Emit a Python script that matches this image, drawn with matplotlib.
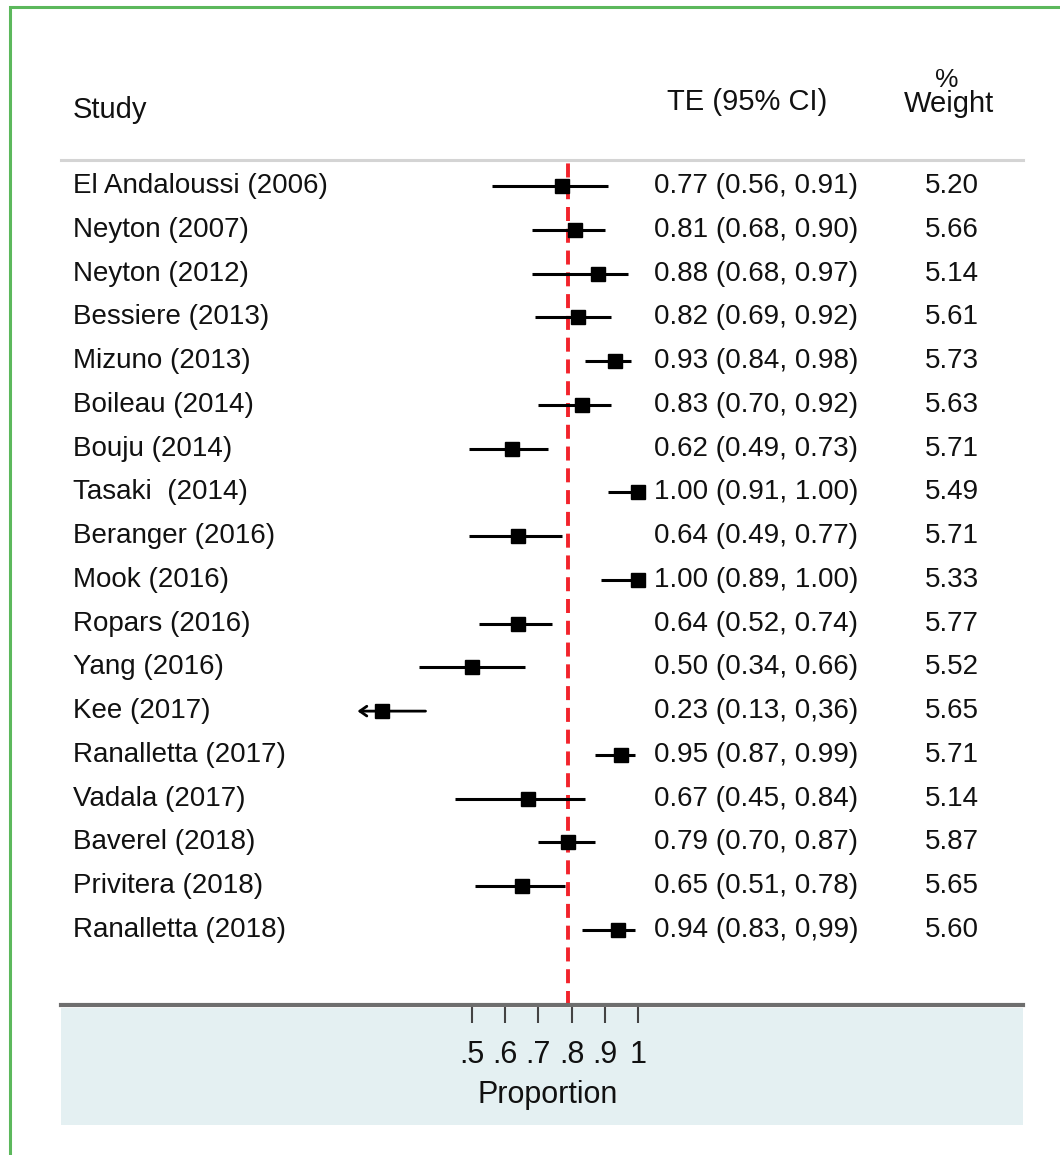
import numpy as np
import matplotlib
matplotlib.use("Agg")
from matplotlib import pyplot as plt
from matplotlib.patches import Rectangle

# study data
studies = ["El Andaloussi (2006)", "Neyton (2007)", "Neyton (2012)", "Bessiere (2013)",
           "Mizuno (2013)", "Boileau (2014)", "Bouju (2014)", "Tasaki  (2014)",
           "Beranger (2016)", "Mook (2016)", "Ropars (2016)", "Yang (2016)",
           "Kee (2017)", "Ranalletta (2017)", "Vadala (2017)", "Baverel (2018)",
           "Privitera (2018)", "Ranalletta (2018)"]
te = [0.77, 0.81, 0.88, 0.82, 0.93, 0.83, 0.62, 1.00, 0.64, 1.00,
      0.64, 0.50, 0.23, 0.95, 0.67, 0.79, 0.65, 0.94]
lo = [0.56, 0.68, 0.68, 0.69, 0.84, 0.70, 0.49, 0.91, 0.49, 0.89,
      0.52, 0.34, 0.13, 0.87, 0.45, 0.70, 0.51, 0.83]
hi = [0.91, 0.90, 0.97, 0.92, 0.98, 0.92, 0.73, 1.00, 0.77, 1.00,
      0.74, 0.66, 0.36, 0.99, 0.84, 0.87, 0.78, 0.99]
ci_text = ["0.77 (0.56, 0.91)", "0.81 (0.68, 0.90)", "0.88 (0.68, 0.97)",
           "0.82 (0.69, 0.92)", "0.93 (0.84, 0.98)", "0.83 (0.70, 0.92)",
           "0.62 (0.49, 0.73)", "1.00 (0.91, 1.00)", "0.64 (0.49, 0.77)",
           "1.00 (0.89, 1.00)", "0.64 (0.52, 0.74)", "0.50 (0.34, 0.66)",
           "0.23 (0.13, 0,36)", "0.95 (0.87, 0.99)", "0.67 (0.45, 0.84)",
           "0.79 (0.70, 0.87)", "0.65 (0.51, 0.78)", "0.94 (0.83, 0,99)"]
weights = [5.20, 5.66, 5.14, 5.61, 5.73, 5.63, 5.71, 5.49, 5.71, 5.33,
           5.77, 5.52, 5.65, 5.71, 5.14, 5.87, 5.65, 5.60]
pooled = 0.79
ticks = [0.5, 0.6, 0.7, 0.8, 0.9, 1.0]
tick_labels = [".5", ".6", ".7", ".8", ".9", "1"]
x_min = 0.155  # left clipping of the plot region

plt.rcParams['font.family'] = ['Liberation Sans', 'DejaVu Sans']

W, H = 1060, 1155
fig = plt.figure(figsize=(W / 100, H / 100), dpi=100)


def fx(px):
    return px / W


def fy(py):
    return 1 - py / H


# green frame (only top and left edge visible)
fig.patches.append(Rectangle((fx(10), fy(1200)), 1.2, fy(7) - fy(1200),
                             transform=fig.transFigure, fill=False,
                             edgecolor="#5cb85c", lw=2.2, zorder=-2))
# light blue band below the axis
fig.patches.append(Rectangle((fx(61), fy(1125)), fx(1023) - fx(61), fy(1008) - fy(1125),
                             transform=fig.transFigure, facecolor="#e4f0f2",
                             edgecolor="none", zorder=-1))

# axes: x proportion maps linearly, 0.5 -> 472px, 0.1 -> 33.2px
left_px, right_px, top_px, bot_px = 61, 1023, 160, 1005
ax = fig.add_axes([fx(left_px), fy(bot_px), fx(right_px) - fx(left_px), fy(top_px) - fy(bot_px)])
ax.set_zorder(2)
ax.patch.set_alpha(0)
ax.set_xlim(0.5 + (left_px - 472) / 332, 0.5 + (right_px - 472) / 332)
row0, step = 186, 43.76
ax.set_ylim((bot_px - row0) / step, (top_px - row0) / step)

n = len(studies)
rows = np.arange(n)

# pooled estimate
ax.axvline(pooled, color="#f2232b", lw=2.8, ls=(0, (3.6, 2.0)), zorder=1)

for i in range(n):
    if lo[i] < x_min:
        ax.annotate("", xy=(x_min, rows[i]), xytext=(hi[i], rows[i]),
                    arrowprops=dict(arrowstyle="->,head_length=0.5,head_width=0.35",
                                    color="black", lw=2, shrinkA=0, shrinkB=0))
    else:
        ax.plot([lo[i], hi[i]], [rows[i], rows[i]], color="black", lw=2.2,
                solid_capstyle="butt", zorder=2)
    ms = 10.5 * np.sqrt(weights[i] / 5.6)
    ax.plot(te[i], rows[i], marker="s", color="black", ms=ms, zorder=3)

for s in ["left", "right"]:
    ax.spines[s].set_visible(False)
ax.spines["top"].set_color("#d4d4d4")
ax.spines["top"].set_linewidth(2.2)
ax.spines["bottom"].set_color("#6e6e6e")
ax.spines["bottom"].set_linewidth(3)
ax.set_yticks([])
ax.set_xticks(ticks)
ax.set_xticklabels(tick_labels, fontsize=22, color="#111111")
ax.tick_params(axis="x", direction="out", length=13, width=1.5, color="#444444", pad=12)
ax.set_xlabel("Proportion", fontsize=22, color="#111111")
ax.xaxis.set_label_coords((548 - left_px) / (right_px - left_px), -(1080 - bot_px) / (bot_px - top_px))

# table text
for i in range(n):
    y = fy(row0 + step * i)
    fig.text(fx(73), y, studies[i], fontsize=20, va="center", ha="left", color="#111111")
    fig.text(fx(654), y, ci_text[i], fontsize=20, va="center", ha="left", color="#111111")
    fig.text(fx(952), y, "%.2f" % weights[i], fontsize=20, va="center", ha="center", color="#111111")

fig.text(fx(73), fy(110), "Study", fontsize=21, va="center", ha="left", color="#111111")
fig.text(fx(747), fy(102), "TE (95% CI)", fontsize=21, va="center", ha="center", color="#111111")
fig.text(fx(949), fy(104), "Weight", fontsize=21, va="center", ha="center", color="#111111")
fig.text(fx(947), fy(80), "%", fontsize=19, va="center", ha="center", color="#111111")

fig.savefig("out.png", dpi=100)
